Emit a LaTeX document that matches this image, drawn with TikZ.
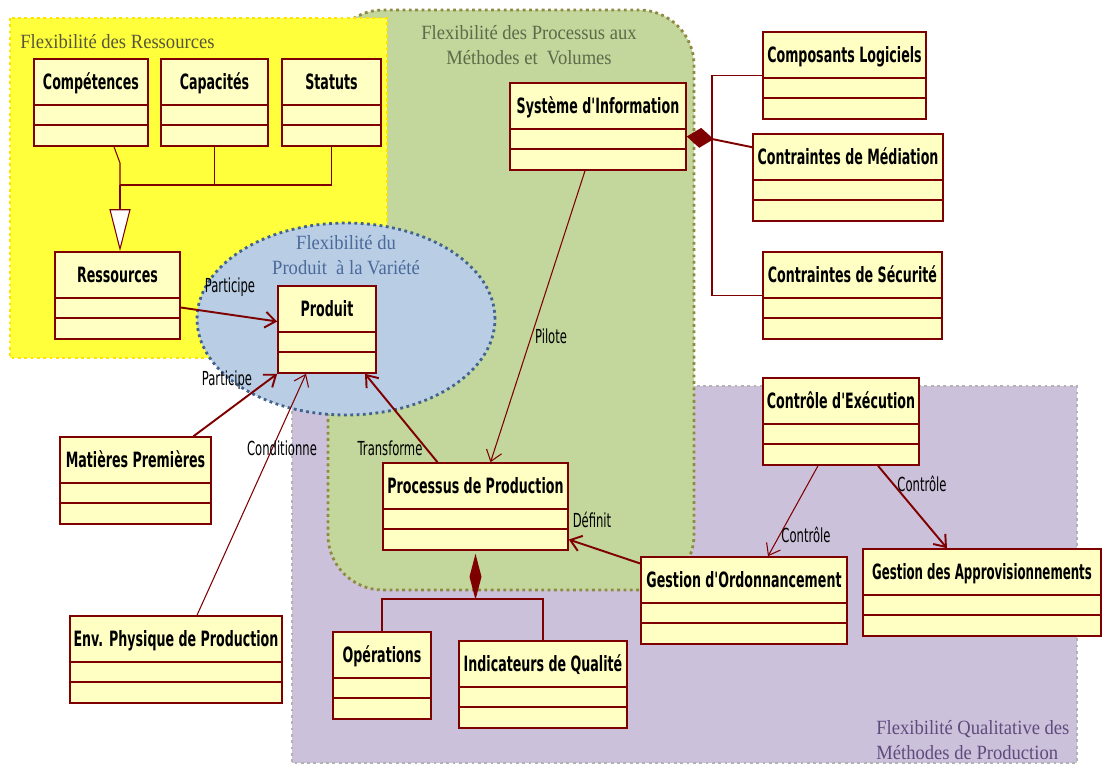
\documentclass[tikz,border=0pt]{standalone}
\usepackage{fontspec}
\setmainfont{Liberation Serif}[FakeStretch=0.92]
\newfontfamily\classfont{DejaVu Sans}[FakeStretch=0.6]
\newfontfamily\classfontserre{DejaVu Sans}[FakeStretch=0.56]
\newfontfamily\etiqfont{DejaVu Sans}[FakeStretch=0.6]
\usetikzlibrary{arrows.meta,calc}

\definecolor{bordeau}{HTML}{7F0000}
\definecolor{creme}{HTML}{FFFFC4}
\definecolor{jaunezone}{HTML}{FFFF3C}
\definecolor{vertzone}{HTML}{C3D69B}
\definecolor{bleuzone}{HTML}{B9CDE5}
\definecolor{mauvezone}{HTML}{CCC1DA}
\definecolor{txtjaune}{HTML}{57563A}
\definecolor{txtvert}{HTML}{5C6B4A}
\definecolor{txtbleu}{HTML}{4A6A9A}
\definecolor{txtmauve}{HTML}{5E4B7D}
\definecolor{pointbleu}{HTML}{41648F}

\begin{document}
\begin{tikzpicture}[
    x=0.02cm, y=-0.02cm,
    classe/.style={
        rectangle,
        draw=bordeau,
        fill=creme,
        line width=0.9pt,
        inner xsep=2pt,
        inner ysep=0pt,
        text height=0.6cm,
        text depth=1.14cm,
        font=\fontsize{12}{14}\classfont\bfseries,
        path picture={
            \draw[bordeau, line width=0.9pt]
                ([yshift=-0.92cm]path picture bounding box.north west) --
                ([yshift=-0.92cm]path picture bounding box.north east)
                ([yshift=-1.32cm]path picture bounding box.north west) --
                ([yshift=-1.32cm]path picture bounding box.north east);
        }
    },
    zone/.style={
        dotted,
        line width=1.6pt
    },
    titre/.style={
        font=\fontsize{11.5}{14.5}\selectfont,
        inner sep=0pt
    },
    etiq/.style={
        font=\fontsize{11}{13}\etiqfont,
        inner sep=0pt
    },
    lien/.style={
        draw=bordeau,
        line width=0.6pt
    },
    lienfort/.style={
        draw=bordeau,
        line width=1.1pt
    },
    fleche/.style={
        -{Straight Barb[length=6pt,width=9pt]}
    }
]
\useasboundingbox (0,0) rectangle (1102,765);

% zones de flexibilite
\fill[mauvezone] (292,386) rectangle (1077,763);
\draw[zone, draw=gray!60] (292,386) rectangle (1077,763);
\draw[zone, draw=olive!55!gray, fill=vertzone, rounded corners=1.1cm] (328,10) rectangle (694,590);
\draw[zone, draw=yellow!85!orange, fill=jaunezone] (10,18) rectangle (387,358);
\draw[zone, draw=pointbleu, fill=bleuzone] (346,319) ellipse [x radius=2.98cm, y radius=1.92cm];

\node[titre, text=txtjaune, anchor=west] (zressources) at (20,42) {Flexibilité des Ressources};
\node[titre, text=txtvert, align=center] (zprocessus) at (529,45)
{Flexibilité des Processus aux\\Méthodes et~ Volumes};
\node[titre, text=txtbleu, align=center] (zproduit) at (346,255)
{Flexibilité du\\Produit~ à la Variété};
\node[titre, text=txtmauve, align=left, anchor=west] (zqualite) at (876,740)
{Flexibilité Qualitative des\\Méthodes de Production};

% classes
\node[classe, minimum width=2.28cm] (competences) at (91,102.5) {Compétences};
\node[classe, minimum width=2.14cm] (capacites) at (214.5,102.5) {Capacités};
\node[classe, minimum width=1.98cm] (statuts) at (331.5,102.5) {Statuts};
\node[classe, minimum width=2.5cm] (ressources) at (117.5,295.5) {Ressources};
\node[classe, minimum width=1.96cm] (produit) at (327,329.5) {Produit};
\node[classe, minimum width=3.52cm] (sysinfo) at (598,126.5) {Système d'Information};
\node[classe, minimum width=3.26cm] (composants) at (844.5,75.5) {Composants Logiciels};
\node[classe, minimum width=3.8cm] (mediation) at (848,177.5) {Contraintes de Médiation};
\node[classe, minimum width=3.58cm] (securite) at (852.5,295.5) {Contraintes de Sécurité};
\node[classe, minimum width=3.7cm] (processus) at (475.5,506.5) {Processus de Production};
\node[classe, minimum width=1.96cm] (operations) at (382,675.5) {Opérations};
\node[classe, minimum width=3.36cm] (indicateurs) at (543,684.5) {Indicateurs de Qualité};
\node[classe, minimum width=4.12cm] (ordonnancement) at (744,600.5) {Gestion d'Ordonnancement};
\node[classe, minimum width=4.76cm, inner xsep=0pt, font=\fontsize{12}{14}\classfontserre\bfseries]
    (approvisionnements) at (982,592.5) {Gestion des Approvisionnements};
\node[classe, minimum width=3.12cm] (controle) at (841,421.5) {Contrôle d'Exécution};
\node[classe, minimum width=3.02cm] (matieres) at (135.5,480.5) {Matières Premières};
\node[classe, minimum width=4.24cm] (envphysique) at (176,659.5) {Env. Physique de Production};

% generalisation des ressources
\coordinate (coude) at (120,163);
\coordinate (jonction) at (120,185);
\draw[lien] ($(competences.south)+(23,0)$) -- (coude) -- (jonction);
\draw[lienfort] (capacites.south) |- (jonction);
\draw[lien] (statuts.south) |- (jonction);
\draw[lien, -{Triangle[length=0.84cm,width=0.42cm,fill=white]}]
    (jonction) -- (jonction |- ressources.north);

% compositions
\coordinate (pivot) at (712,139);
\draw[lienfort, -{Diamond[length=0.54cm,width=0.4cm]}]
    ($(mediation.north west)+(0,14)$) -- (pivot) -- ($(sysinfo.east)+(0,10)$);
\draw[lien] (composants.west) -| (pivot) |- (securite.west);

\coordinate (embranch) at (475.5,599);
\draw[lienfort, -{Diamond[length=0.92cm,width=0.24cm]}]
    (embranch) -- ($(processus.south)+(0,3)$);
\draw[lienfort] (operations.north) |- (embranch) -| (indicateurs.north);

% associations
\draw[lienfort, fleche] ($(ressources.east)+(0,12)$) -- ($(produit.west)+(0,-8)$);
\draw[lienfort, fleche] ($(matieres.north)+(58,0)$) -- (produit.south west);
\draw[lien, fleche] ($(envphysique.north)+(21,0)$) -- ($(produit.south)+(-21,0)$);
\draw[lienfort, fleche] ($(processus.north)+(-38,0)$) -- ($(produit.south)+(38,0)$);
\draw[lien, fleche] ($(sysinfo.south)+(-13,0)$) -- ($(processus.north)+(15,0)$);
\draw[lienfort, fleche] ($(ordonnancement.west)+(0,-37)$) -- ($(processus.east)+(0,33)$);
\draw[lien, fleche] ($(controle.south)+(-23,0)$) -- ($(ordonnancement.north)+(24,0)$);
\draw[lienfort, fleche] ($(controle.south)+(37,0)$) -- ($(approvisionnements.north)+(-35,0)$);

\node[etiq] (etqparticipe) at (230,287) {Participe};
\node[etiq] (etqparticipeb) at (227,380) {Participe};
\node[etiq] (etqconditionne) at (282,448) {Conditionne};
\node[etiq] (etqtransforme) at (390,448) {Transforme};
\node[etiq] (etqpilote) at (551,336) {Pilote};
\node[etiq] (etqdefinit) at (592,520) {Définit};
\node[etiq] (etqcontrole) at (806,535) {Contrôle};
\node[etiq] (etqcontroleb) at (922,484) {Contrôle};

\end{tikzpicture}
\end{document}
